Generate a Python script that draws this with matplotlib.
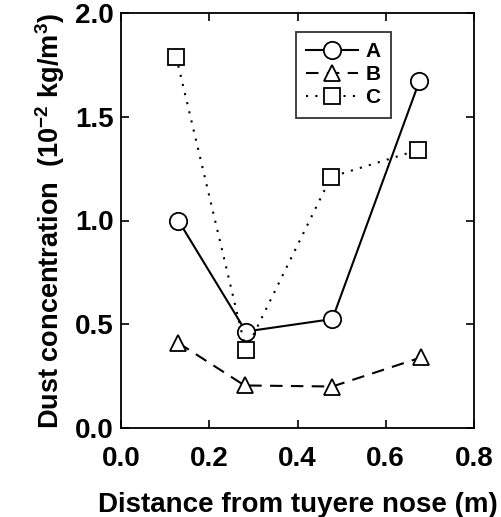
import matplotlib
matplotlib.use("Agg")
import matplotlib.pyplot as plt

plt.rcParams['font.family'] = ['Liberation Sans', 'DejaVu Sans']
plt.rcParams['font.weight'] = 'bold'
plt.rcParams['mathtext.fontset'] = 'custom'
plt.rcParams['mathtext.rm'] = 'Liberation Sans:bold'
plt.rcParams['mathtext.bf'] = 'Liberation Sans:bold'
plt.rcParams['mathtext.default'] = 'bf'

x_A = [0.130, 0.283, 0.479, 0.676]
y_A = [1.00, 0.465, 0.525, 1.67]
x_B = [0.130, 0.280, 0.479, 0.680]
y_B = [0.41, 0.205, 0.20, 0.34]
x_C = [0.125, 0.283, 0.476, 0.674]
y_C = [1.79, 0.375, 1.21, 1.34]
labels = ["A", "B", "C"]
x_ticks = [0.0, 0.2, 0.4, 0.6, 0.8]
y_ticks = [0.0, 0.5, 1.0, 1.5, 2.0]

fig = plt.figure(figsize=(5.01, 5.17), dpi=100)
ax = fig.add_axes([121/501, 1 - 428/517, 353/501, 415/517])

kw = dict(color='black', markerfacecolor='white', markeredgecolor='black',
          markeredgewidth=1.3, linewidth=1.5)
ax.plot(x_A, y_A, '-', marker='o', markersize=12.5, label=labels[0], **kw)
ax.plot(x_B, y_B, marker='^', markersize=11, linestyle=(0, (6, 4)), label=labels[1], **kw)
ax.plot(x_C, y_C, marker='s', markersize=11, linestyle=(0, (1, 3.5)), label=labels[2], **kw)

ax.set_xlim(0.0, 0.8)
ax.set_ylim(0.0, 2.0)
ax.set_xticks(x_ticks)
ax.set_yticks(y_ticks)
ax.set_xticklabels([f"{v:.1f}" for v in x_ticks])
ax.set_yticklabels([f"{v:.1f}" for v in y_ticks])
ax.tick_params(direction='in', top=True, right=True, length=6, width=1.2,
               labelsize=20)
ax.tick_params(axis='x', pad=13)
ax.tick_params(axis='y', pad=5)
for lab in ax.get_xticklabels() + ax.get_yticklabels():
    lab.set_fontweight('bold')
for s in ax.spines.values():
    s.set_linewidth(1.3)

ax.set_xlabel("Distance from tuyere nose (m)", fontsize=20, fontweight='bold', labelpad=14)
ax.set_ylabel("Dust concentration  (10$^{\\mathbf{-2}}$ kg/m$^{\\mathbf{3}}$)", fontsize=19.5,
              fontweight='bold', labelpad=6)

leg = ax.legend(loc='upper left', bbox_to_anchor=(0.495, 0.955), frameon=True, fancybox=False,
                edgecolor='black', fontsize=15, handlelength=2.5, handletextpad=0.35,
                borderpad=0.5, labelspacing=0.2, borderaxespad=0)
leg.get_frame().set_linewidth(1.3)
for t in leg.get_texts():
    t.set_fontweight('bold')

fig.savefig("out.png", dpi=100)
